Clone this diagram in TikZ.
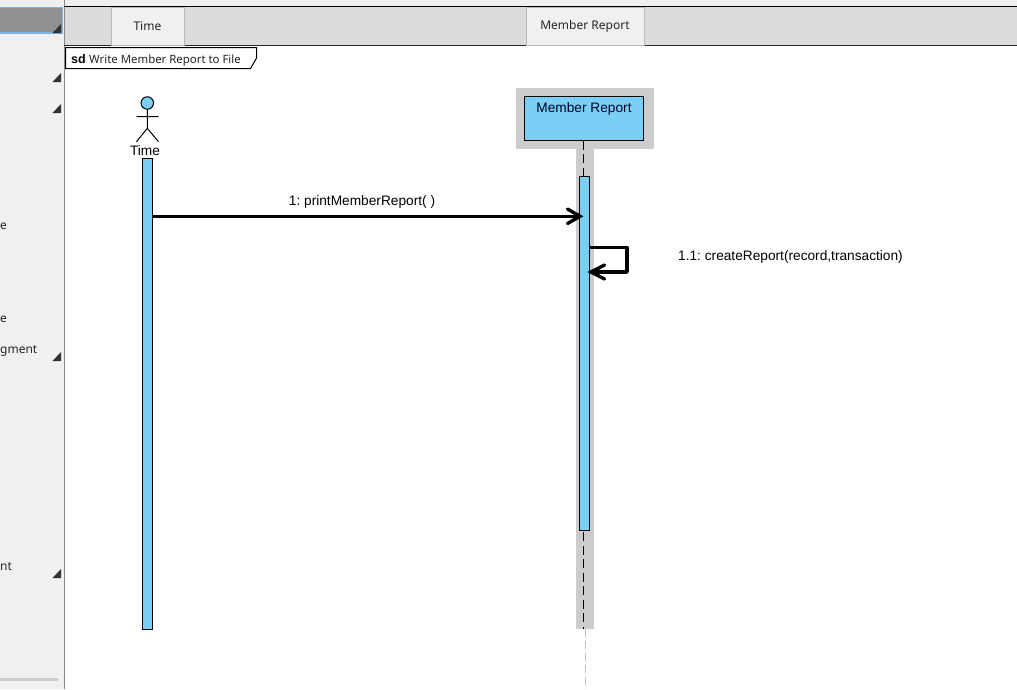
\documentclass[tikz,border=0pt]{standalone}
\usepackage{fontspec}
\setmainfont{Liberation Sans}
\newfontfamily\uifont{Noto Sans}
\definecolor{fillblue}{HTML}{7ACFF5}
\definecolor{panel}{HTML}{F0F0F0}
\definecolor{tabbar}{HTML}{DCDCDC}
\definecolor{shadow}{HTML}{CCCCCC}
\definecolor{selgray}{HTML}{909090}
\definecolor{selblue}{HTML}{7FB2E0}
\definecolor{edgegray}{HTML}{8A8A8A}
\definecolor{tiptone}{HTML}{333333}
\definecolor{tabedge}{HTML}{B8B8B8}
\tikzset{
  x=1pt,y=-1pt,
  bar/.style={draw=black,fill=fillblue,line width=1pt},
  tabnode/.style={draw=tabedge,fill=panel,line width=0.9pt,inner sep=0pt,font=\uifont\fontsize{12}{14}\selectfont,text=black!85},
  uitext/.style={font=\uifont\fontsize{12}{14}\selectfont,inner sep=0pt,text=black!85},
  lbl/.style={font=\frenchspacing\fontsize{13.7}{16}\selectfont,inner sep=0pt,text=black},
  msg/.style={line width=3.4pt,black},
  tip/.style={fill=tiptone,draw=none},
  openhead/.style={line width=3.4pt,line cap=round,line join=miter},
}
\begin{document}
\begin{tikzpicture}
\useasboundingbox (0,0) rectangle (1017,689);
\fill[white] (0,0) rectangle (1017,689);
% left panel
\fill[panel] (0,0) rectangle (64,689);
\fill[panel] (64,0) rectangle (1017,6);
\fill[selgray] (0,8) rectangle (62,32);
\draw[selblue,line width=1.6pt] (0,7.5) -- (62.5,7.5) -- (62.5,33) -- (0,33);
\draw[edgegray,line width=1pt] (64.5,0) -- (64.5,689);
\fill[shadow] (0,678) rectangle (58,681);
\foreach \ty in {33,82,113,361,578}{
  \fill[tip] (52.5,\ty) -- (61,\ty) -- (61,\ty-9) -- cycle;
}
\node[uitext,anchor=base west] (frag1) at (0,229) {e};
\node[uitext,anchor=base west] (frag2) at (0,322) {e};
\node[uitext,anchor=base west] (frag3) at (0,353) {gment};
\node[uitext,anchor=base west] (frag4) at (0,570) {nt};
% tab bar
\fill[tabbar] (65,7) rectangle (1017,45);
\draw[black,line width=1pt] (64,6.5) -- (1017,6.5);
\draw[black!85,line width=1.2pt] (64,45.6) -- (1017,45.6);
\node[tabnode,minimum width=73pt,minimum height=38.5pt,anchor=north west] (tabtime) at (110.5,6.5) {Time};
\node[tabnode,minimum width=118pt,minimum height=38.5pt,anchor=north west] (tabmember) at (525.5,6.5) {Member Report};
% frame
\draw[black,line width=1pt,fill=white] (65.5,47.5) -- (256.5,47.5) -- (256.5,58) -- (250.5,68.5) -- (65.5,68.5) -- cycle;
\node[anchor=base west,inner sep=0pt,font=\fontsize{12.5}{14}\selectfont] (sdtag) at (71,63) {\bfseries sd};
\node[uitext,anchor=base west,font=\uifont\fontsize{11.4}{14}\selectfont] (frame) at (89,63) {Write Member Report to File};
% member report shadow
\fill[shadow] (516,88) rectangle (654,149);
\fill[shadow] (576,149) rectangle (594,628.5);
% lifelines
\coordinate (lifeend) at (583.3,628.5);
\coordinate (ghosttop) at (585.5,629);
\coordinate (ghostend) at (585.5,689);
\node[draw=black,fill=fillblue,line width=1pt,inner sep=0pt,minimum width=119pt,minimum height=44pt,anchor=north west] (member) at (523.7,95.8) {};
\node[lbl,text=black!85!blue,anchor=base] (memberlbl) at (584,112) {Member Report};
\draw[black,line width=1.1pt,dash pattern=on 9pt off 4.5pt] (lifeend |- member.south) -- (lifeend);
\draw[black!25,line width=0.8pt,dash pattern=on 8pt off 4pt] (ghosttop) -- (ghostend);
% actor
\node[circle,draw=black,fill=fillblue,line width=1pt,minimum size=12.5pt,inner sep=0pt] (head) at (147.3,103) {};
\coordinate (hip) at (147.3,128.3);
\coordinate (arml) at (136.5,116.7);
\coordinate (armr) at (158.5,116.7);
\coordinate (footl) at (136.5,141.7);
\coordinate (footr) at (158.5,141.7);
\draw[black,line width=1pt] (head.south) -- (hip) (arml) -- (armr) (footl) -- (hip) -- (footr);
\node[lbl,anchor=base] (actorlbl) at (145,155) {Time};
% activation bars
\node[bar,minimum width=9.8pt,minimum height=471pt,inner sep=0pt,anchor=north west] (acttime) at (141.8,157.8) {};
\node[bar,minimum width=9.8pt,minimum height=354pt,inner sep=0pt,anchor=north west] (actmember) at (578.8,175.8) {};
% message 1
\coordinate (m1start) at (acttime.east |- 0,216.3);
\coordinate (m1end) at (580,216.3);
\draw[msg] (m1start) -- (m1end);
\draw[openhead] (567.5,209) -- (m1end) -- (567.5,223.5);
\node[lbl,anchor=base] (m1lbl) at (362,205) {1: printMemberReport( )};
% self message
\coordinate (s1) at (actmember.east |- 0,247.3);
\coordinate (s2) at (627,247.3);
\coordinate (s3) at (627,272);
\coordinate (s4) at (591,272);
\draw[msg,line join=round] (s1) -- (s2) -- (s3) -- (s4);
\draw[openhead] (604.5,265) -- (s4) -- (604.5,279);
\node[lbl,anchor=base] (s1lbl) at (790.5,260.5) {1.1: createReport(record,transaction)};
\end{tikzpicture}
\end{document}
